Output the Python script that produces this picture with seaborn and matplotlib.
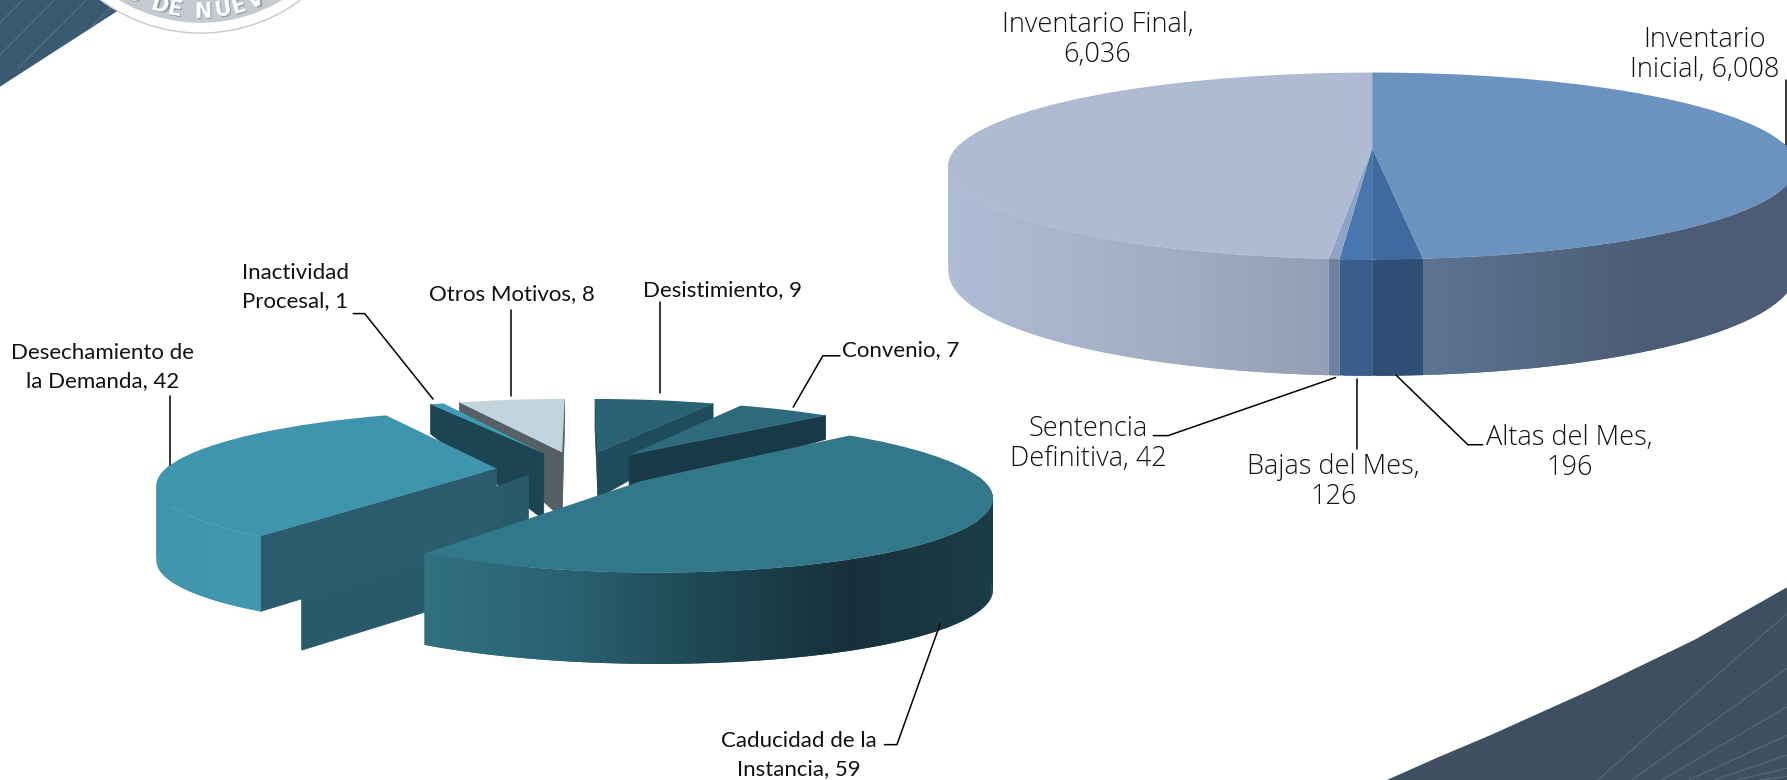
import numpy as np
import matplotlib
matplotlib.use('Agg')
import matplotlib.pyplot as plt
import seaborn as sns
from matplotlib.patches import Circle
from matplotlib.transforms import Affine2D, Transform

# values
motivos = ['Desistimiento', 'Convenio', 'Caducidad de la\nInstancia',
           'Desechamiento de\nla Demanda', 'Inactividad\nProcesal', 'Otros Motivos']
motivos_val = [9, 7, 59, 42, 1, 8]
inventario = ['Inventario\nInicial', 'Altas del Mes', 'Bajas del Mes',
              'Sentencia\nDefinitiva', 'Inventario Final']
inventario_val = [6008, 196, 126, 42, 6036]
inventario_sep = [', ', ',\n', ',\n', ', ', ',\n']


class Tilt(Transform):
    # cheap perspective, the back of the pie gets smaller
    input_dims = 2
    output_dims = 2

    def __init__(self, k):
        super().__init__()
        self.k = k

    def transform_non_affine(self, xy):
        xy = np.asarray(xy, dtype=float)
        s = 1 / (1 + self.k * xy[:, 1])
        return np.column_stack([xy[:, 0] * s, xy[:, 1] * s])


sns.set_theme(style='white')
fig = plt.figure(figsize=(17.87, 7.8), dpi=100)
ax = fig.add_axes([0, 0, 1, 1])


def pie_3d(values, centre, a, b, explode, tops, walls, faces, depth, order, sag=0.0):
    wedges, _ = ax.pie(values, startangle=90, counterclock=False, colors=tops,
                       explode=explode, wedgeprops={'linewidth': 0})
    view = Tilt(0.19) + Affine2D().scale(a, -b).translate(*centre)
    for i, w in enumerate(wedges):
        z = 10 + order[i] * 10
        w.set_transform(view + ax.transData)
        w.set_zorder(z + 5)
        cx, cy = w.center
        th = np.radians(np.linspace(w.theta1, w.theta2, int(w.theta2 - w.theta1) * 2 + 3))
        rim = view.transform(np.column_stack([cx + np.cos(th), cy + np.sin(th)]))
        tip = view.transform([[cx, cy]])[0]
        mid = rim[len(rim) // 2]
        d_tip, d_rim = depth[i]
        # outer wall, strips overlap the next one so no seams show
        cmap = walls[i]
        lo, hi = rim[:, 0].min(), rim[:, 0].max()
        for j in range(len(rim) - 1):
            if np.sin(th[j]) > 0.05 and np.sin(th[j + 1]) > 0.05:
                continue
            p, q = rim[j], rim[min(j + 2, len(rim) - 1)]
            if p[0] > q[0]:
                p, q = q, p
            dp = d_rim * (1 - sag * (1 + np.sin(th[j])))
            t = (0.5 * (p[0] + q[0]) - lo) / max(hi - lo, 1)
            ax.fill([p[0], q[0], q[0], p[0]], [p[1], q[1], q[1] + dp, p[1] + dp],
                    color=cmap(t), lw=0, zorder=z + 1 + j * 0.001)
        # cut faces, only those that look to the front
        if max(explode) == 0:
            continue
        for end in (rim[-1], rim[0]):
            if abs(end[0] - tip[0]) < 1:
                continue
            line_y = tip[1] + (end[1] - tip[1]) * (mid[0] - tip[0]) / (end[0] - tip[0])
            if mid[1] < line_y:
                ax.fill([tip[0], end[0], end[0], tip[0]],
                        [tip[1], end[1], end[1] + d_rim, tip[1] + d_tip],
                        color=faces[i], lw=0.5, zorder=z)
    return wedges, view


# left pie
tops_l = ['#2a6374', '#2c6a7c', '#33778a', '#4095ae', '#3f9ab5', '#c2d4dc']
walls_l = [sns.blend_palette(c, as_cmap=True) for c in
           (['#1f4c5c', '#1f4c5c'], ['#183a47', '#183a47'],
            ['#30707f', '#2a6172', '#1e4653', '#16303a', '#1a3c47'],
            ['#3f93ab', '#4299b2', '#3f93ab'], ['#1d4452', '#1d4452'], ['#555f66', '#555f66'])]
faces_l = ['#1f4c5c', '#183a47', '#2a6172', '#2a5c6e', '#1d4452', '#555f66']
depth_l = [(40, 26), (34, 21), (80, 80), (62, 66), (58, 26), (58, 20)]
order_l = [0, 1, 5, 4, 3, 2]
explode_l = [0.27, 0.27, 0.24, 0.25, 0.27, 0.27]
wl, view_l = pie_3d(motivos_val, (508, 412), 291, 61, explode_l, tops_l, walls_l, faces_l, depth_l, order_l)

# second inner face behind Desechamiento
w = wl[3]
th = np.radians(w.theta2)
p0 = view_l.transform([[w.center[0], w.center[1]]])[0] + [28, 6]
p1 = view_l.transform([[w.center[0] + np.cos(th), w.center[1] + np.sin(th)]])[0] + [36, 16]
ax.fill([p0[0], p1[0], p1[0], p0[0]], [p0[1], p1[1], p1[1] + 84, p0[1] + 92],
        color='#285a6a', lw=0.5, zorder=48)

# right pie
tops_r = ['#6c93c0', '#3f6a9e', '#4876ae', '#8ea3c6', '#aebbd3']
walls_r = [sns.blend_palette(c, as_cmap=True) for c in
           (['#617b9c', '#556a86', '#4b5c74', '#4b5c74'], ['#2f4e76', '#2f4e76'], ['#3a5e8b', '#3a5e8b'],
            ['#72809f', '#72809f'], ['#afbcd5', '#a3aec4', '#8f9aae'])]
faces_r = ['#4b5c74', '#2f4e76', '#3a5e8b', '#72809f', '#8f9aae']
pie_3d(inventario_val, (1204, 130), 365, 79, [0] * 5, tops_r, walls_r, faces_r,
       [(102, 102)] * 5, [0, 1, 2, 3, 4], sag=0.12)

ax.set_aspect('auto')
ax.set_xlim(0, 1568)
ax.set_ylim(684, 0)
ax.axis('off')

# slide background bits
swoosh = ax.fill([0, 0, 92, 104, 0], [76, 0, 0, 9, 76], color='#3a5a72', lw=0, zorder=1)[0]
for x0 in (-40, -12, 16, 44):
    ax.plot([x0, x0 + 60], [60, 0], color='#54728a', lw=0.7, zorder=1)[0].set_clip_path(swoosh)
corner = ax.fill([1217, 1262, 1307, 1396, 1487, 1568, 1568], [684, 664, 645, 605, 561, 515, 684],
                 color='#3e4f60', lw=0, zorder=1)[0]
for x0 in (1402, 1432, 1458, 1482, 1504, 1524, 1544):
    ax.plot([x0, x0 + 166], [684, 538 + (x0 - 1402) * 0.88], color='#56697a', lw=0.8,
            zorder=1)[0].set_clip_path(corner)

ax.add_patch(Circle((176, -118), 147, fc='white', ec='#c9c9c9', lw=1, zorder=2))
ax.add_patch(Circle((176, -118), 138, fc='#c4cad2', ec='none', zorder=2))
for ch, x in zip('ODENUEV', (116, 140, 153, 178, 195, 209, 225)):
    dx = x - 176
    y = -118 + np.sqrt(128 ** 2 - dx ** 2)
    ang = np.degrees(np.arcsin(dx / 128))
    ax.text(x + 1, y + 1, ch, color='#8f959c', fontsize=15, fontweight='bold', ha='center', va='center',
            rotation=ang, zorder=3, family='DejaVu Sans')
    ax.text(x, y, ch, color='white', fontsize=15, fontweight='bold', ha='center', va='center',
            rotation=ang, zorder=3, family='DejaVu Sans')

# labels and leaders
pos_l = [(634, 254), (790, 307), (701, 662), (90, 322), (212, 252), (449, 258)]
for name, v, p in zip(motivos, motivos_val, pos_l):
    ha = 'left' if name.startswith('Inact') else 'center'
    ax.text(p[0], p[1], f'{name}, {v}', ha=ha, va='center', fontsize=16, family='Lato',
            color='#111111', linespacing=1.5, zorder=80, multialignment=ha)

pos_r = [(1496, 48), (1377, 397), (1170, 423), (955, 389), (963, 35)]
for name, v, sep, p in zip(inventario, inventario_val, inventario_sep, pos_r):
    ax.text(p[0], p[1], f'{name}{sep}{v:,}', ha='center', va='center', fontsize=19.5, family='Open Sans',
            fontweight='light', color='#111111', linespacing=1.1, zorder=80)

leaders = [[(579, 265), (579, 345)], [(737, 312), (722, 312), (696, 357)],
           [(776, 653), (787, 653), (825, 547)], [(149, 347), (149, 408)],
           [(310, 275), (320, 275), (380, 350)], [(448, 272), (448, 347)],
           [(1567, 70), (1567, 127)], [(1012, 382), (1025, 382), (1172, 331)],
           [(1191, 332), (1191, 394)], [(1301, 390), (1288, 390), (1225, 329)]]
for line in leaders:
    ax.plot(*zip(*line), color='black', lw=1.1, zorder=70)

fig.savefig('out.png', dpi=100, facecolor='white')
